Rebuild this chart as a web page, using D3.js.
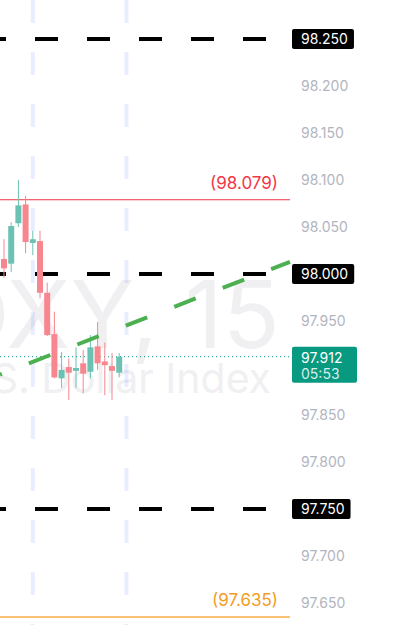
<!DOCTYPE html>
<html>
<head>
<meta charset="utf-8">
<script src="https://cdn.jsdelivr.net/npm/d3@7"></script>
<style>
  body { margin: 0; background: #fff; }
  svg { display: block; }
</style>
</head>
<body>
<svg id="chart" width="393" height="625"></svg>
<script>
"use strict";

// DXY 15 min candles
var opens  = [98.016, 98.011, 98.054, 98.074, 98.033, 98.035, 97.980, 97.936, 97.889, 97.901, 97.897, 97.905, 97.896, 97.923, 97.907, 97.902, 97.895];
var highs  = [98.037, 98.055, 98.100, 98.083, 98.046, 98.046, 97.991, 97.960, 97.917, 97.910, 97.922, 97.919, 97.935, 97.949, 97.927, 97.916, 97.916];
var lows   = [97.996, 98.002, 98.050, 98.022, 98.020, 97.974, 97.934, 97.889, 97.879, 97.866, 97.879, 97.873, 97.889, 97.898, 97.871, 97.866, 97.890];
var closes = [98.006, 98.051, 98.073, 98.034, 98.037, 97.980, 97.935, 97.890, 97.898, 97.895, 97.900, 97.894, 97.922, 97.905, 97.903, 97.897, 97.912];

var priceTicks = [98.25, 98.20, 98.15, 98.10, 98.05, 98.00, 97.95, 97.90, 97.85, 97.80, 97.75, 97.70, 97.65];
var blackLevels = [98.25, 98.00, 97.75];
var sessionBreaks = [4, 17];
var highLevel = 98.079;
var lowLevel = 97.635;
var lastPrice = 97.912;
var countdown = "05:53";
// trend line end points: [bar index, price]
var trendStart = [-0.56, 97.893];
var trendEnd = [39.72, 98.013];

var width = 393, height = 625, plotW = 290;
var svg = d3.select("#chart");

var x = d3.scaleLinear().domain([0, 16]).range([4, 119.2]);
var y = d3.scaleLinear().domain([97.65, 98.25]).range([603, 39]);
var fmt = d3.format(".3f");

var upColor = "#6bc2b3", downColor = "#f7868f";
var font = "Inter, 'Noto Sans', sans-serif";

var plot = svg.append("g").attr("class", "plot");

// watermark
plot.append("text")
  .attr("x", 280).attr("y", 348)
  .attr("text-anchor", "end")
  .attr("font-family", font)
  .attr("font-size", 94)
  .attr("fill", "#f0f0f2")
  .text("DXY, 15");
plot.append("text")
  .attr("x", 271).attr("y", 393)
  .attr("text-anchor", "end")
  .attr("font-family", font)
  .attr("font-size", 41)
  .attr("fill", "#f0f0f2")
  .text("U.S. Dollar Index");

// session breaks
plot.selectAll(".session")
  .data(sessionBreaks)
  .enter().append("line")
    .attr("class", "session")
    .attr("x1", function (d) { return x(d); })
    .attr("x2", function (d) { return x(d); })
    .attr("y1", 0).attr("y2", height)
    .attr("stroke", "rgba(41,98,255,0.11)")
    .attr("stroke-width", 4)
    .attr("stroke-dasharray", "23,29");

// black dashed levels
plot.selectAll(".level")
  .data(blackLevels)
  .enter().append("line")
    .attr("class", "level")
    .attr("x1", 0).attr("x2", plotW)
    .attr("y1", function (d) { return y(d); })
    .attr("y2", function (d) { return y(d); })
    .attr("stroke", "#000")
    .attr("stroke-width", 4)
    .attr("stroke-dasharray", "23,29")
    .attr("stroke-dashoffset", 17);

// high / low lines
plot.append("line")
  .attr("x1", 0).attr("x2", plotW)
  .attr("y1", y(highLevel)).attr("y2", y(highLevel))
  .attr("stroke", "#f23645").attr("stroke-width", 1);
plot.append("text")
  .attr("x", 278).attr("y", y(highLevel) - 11)
  .attr("text-anchor", "end")
  .attr("font-family", font).attr("font-size", 17)
  .attr("fill", "#f23645")
  .text("(" + fmt(highLevel) + ")");

plot.append("line")
  .attr("x1", 0).attr("x2", plotW)
  .attr("y1", y(lowLevel)).attr("y2", y(lowLevel))
  .attr("stroke", "#f7ad45").attr("stroke-width", 1.5);
plot.append("text")
  .attr("x", 278).attr("y", y(lowLevel) - 11)
  .attr("text-anchor", "end")
  .attr("font-family", font).attr("font-size", 17)
  .attr("fill", "#f39c24")
  .text("(" + fmt(lowLevel) + ")");

// last price dotted line
plot.append("line")
  .attr("x1", 0).attr("x2", plotW)
  .attr("y1", y(lastPrice)).attr("y2", y(lastPrice))
  .attr("stroke", "#089981").attr("stroke-width", 1)
  .attr("stroke-dasharray", "1,3");

// candles
var idx = d3.range(opens.length);
var candles = plot.selectAll(".candle")
  .data(idx)
  .enter().append("g")
    .attr("class", "candle");

candles.append("line")
  .attr("x1", function (i) { return x(i); })
  .attr("x2", function (i) { return x(i); })
  .attr("y1", function (i) { return y(highs[i]); })
  .attr("y2", function (i) { return y(lows[i]); })
  .attr("stroke", function (i) { return closes[i] >= opens[i] ? upColor : downColor; })
  .attr("stroke-width", 1);

candles.append("rect")
  .attr("x", function (i) { return x(i) - 3; })
  .attr("width", 6)
  .attr("y", function (i) { return y(Math.max(opens[i], closes[i])); })
  .attr("height", function (i) { return Math.max(1, Math.abs(y(opens[i]) - y(closes[i]))); })
  .attr("fill", function (i) { return closes[i] >= opens[i] ? upColor : downColor; });

// trend line
plot.append("line")
  .attr("x1", x(trendStart[0])).attr("y1", y(trendStart[1]))
  .attr("x2", x(trendEnd[0])).attr("y2", y(trendEnd[1]))
  .attr("stroke", "#4caf50")
  .attr("stroke-width", 4)
  .attr("stroke-dasharray", "23,29")
  .attr("stroke-dashoffset", 21);

// price scale (ticks covered by the last price label are hidden, as on the chart)
var axis = svg.append("g").attr("class", "price-axis");
var lpTop = y(lastPrice) - 10, lpBottom = y(lastPrice) + 26;
axis.selectAll(".tick")
  .data(priceTicks.filter(function (d) {
    return y(d) < lpTop - 4 || y(d) > lpBottom + 4;
  }))
  .enter().append("text")
    .attr("x", 301)
    .attr("y", function (d) { return y(d); })
    .attr("dy", "0.35em")
    .attr("font-family", font).attr("font-size", 14)
    .attr("fill", "#b2b5be")
    .text(function (d) { return fmt(d); });

// black level labels
blackLevels.forEach(function (v) {
  var g = axis.append("g");
  var r = g.append("rect")
    .attr("x", 292).attr("y", y(v) - 10)
    .attr("height", 20).attr("rx", 2)
    .attr("fill", "#000");
  var t = g.append("text")
    .attr("x", 301).attr("y", y(v))
    .attr("dy", "0.35em")
    .attr("font-family", font).attr("font-size", 14)
    .attr("fill", "#fff")
    .text(fmt(v));
  r.attr("width", t.node().getComputedTextLength() + 15);
});

// last price label
var lp = axis.append("g");
lp.append("rect")
  .attr("x", 292).attr("y", lpTop)
  .attr("width", 65).attr("height", lpBottom - lpTop).attr("rx", 2)
  .attr("fill", "#089981");
lp.append("text")
  .attr("x", 301).attr("y", y(lastPrice) + 1)
  .attr("dy", "0.35em")
  .attr("font-family", font).attr("font-size", 14)
  .attr("fill", "#fff")
  .text(fmt(lastPrice));
lp.append("text")
  .attr("x", 301).attr("y", y(lastPrice) + 17)
  .attr("dy", "0.35em")
  .attr("font-family", font).attr("font-size", 14)
  .attr("fill", "rgba(255,255,255,0.85)")
  .text(countdown);
</script>
</body>
</html>
